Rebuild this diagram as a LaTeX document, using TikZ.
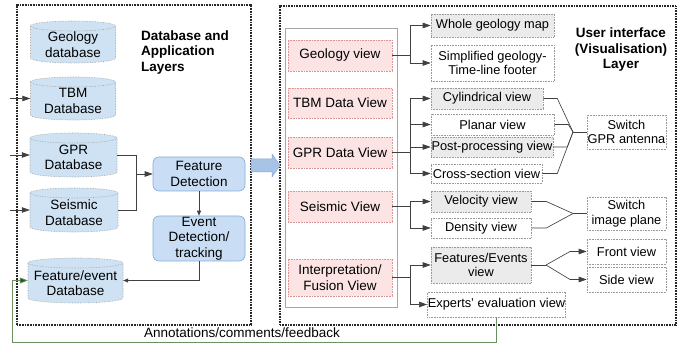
\documentclass[tikz,border=0pt]{standalone}
\usepackage{fontspec}
\setmainfont{Liberation Sans}
\usetikzlibrary{arrows.meta,calc}

\definecolor{cylblue}{HTML}{CFE2F3}
\definecolor{procblue}{HTML}{C9DEF5}
\definecolor{procborder}{HTML}{86A9D6}
\definecolor{pinkfill}{HTML}{FCE4E4}
\definecolor{pinkborder}{HTML}{D99494}
\definecolor{boxgray}{HTML}{EBEBEB}
\definecolor{fbgreen}{HTML}{6A9060}
\definecolor{fbdark}{HTML}{1E5A1E}
\definecolor{arrowblue}{HTML}{A7C3E6}

\newcommand\dbcyl[6]{%
  \filldraw[cylline] ({#2-#4/2},{#3-#5/2+5}) -- ({#2-#4/2},{#3+#5/2-5})
    arc[start angle=180,end angle=0,x radius={#4/2},y radius=5]
    -- ({#2+#4/2},{#3-#5/2+5})
    arc[start angle=0,end angle=-180,x radius={#4/2},y radius=5] -- cycle;
  \draw[cylline] ({#2-#4/2},{#3-#5/2+5}) arc[start angle=180,end angle=0,x radius={#4/2},y radius=5];
  \node[minimum width=#4pt,minimum height=#5pt,inner sep=0] (#1) at (#2,#3) {};
  \node[align=center,inner sep=0] (#1t) at (#2,{#3+2.5}) {#6};
}

\begin{document}
\begin{tikzpicture}[x=1pt,y=-1pt,
  every node/.style={font=\fontsize{13.5}{15.5}\selectfont},
  panel/.style={draw=black!85,line width=1.2pt,dash pattern=on 1pt off 0.6pt,inner sep=0},
  cylline/.style={draw=gray!75,fill=cylblue,densely dotted,line width=0.6pt},
  proc/.style={draw=procborder,fill=procblue,rounded corners=6pt,line width=0.6pt,align=center,inner sep=0},
  pinkbox/.style={draw=pinkborder,fill=pinkfill,densely dotted,line width=0.6pt,align=center,inner sep=0},
  rbox/.style={draw=gray!80,densely dotted,line width=0.6pt,inner sep=0.5pt,align=center,font=\fontsize{12.8}{14.5}\selectfont},
  gbox/.style={rbox,fill=boxgray},
  wbox/.style={rbox,fill=white},
  conn/.style={line width=0.65pt,draw=black!75},
  arr/.style={conn,-{Triangle[length=8pt,width=5.5pt]}},
  arrsm/.style={conn,-{Triangle[length=5pt,width=4pt]}},
  fb/.style={line width=0.7pt,draw=fbgreen,-{Triangle[length=8pt,width=6pt,fill=fbdark]}},
  title/.style={font=\bfseries\fontsize{13.5}{15.5}\selectfont,inner sep=0}
]
\useasboundingbox (0,0) rectangle (683,347);

% panels
\node[panel,minimum width=234pt,minimum height=320pt] (lpanel) at (134,165) {};
\node[panel,minimum width=396pt,minimum height=319pt] (rpanel) at (478,165.5) {};
\node[draw=gray!70,line width=0.8pt,minimum width=112pt,minimum height=279pt,inner sep=0] (inner) at (341,167.5) {};

% big arrow between layers
\filldraw[fill=arrowblue,draw=procborder,line width=0.5pt]
  (251,159) -- (272,159) -- (272,154) -- (280,165.5) -- (272,177) -- (272,172) -- (251,172) -- cycle;

% left layer
\dbcyl{geo}{73}{42}{85}{42}{Geology\\database}
\dbcyl{tbm}{73}{98.5}{85}{43}{TBM\\Database}
\dbcyl{gpr}{73.5}{155}{87}{44}{GPR\\Database}
\dbcyl{seis}{74}{210}{88}{44}{Seismic\\Database}
\dbcyl{fev}{75.5}{280.5}{95}{45}{Feature/event\\Database}

\node[title,align=left,anchor=west] (ltitle) at (141,52.5) {Database and\\Application\\Layers};

\node[proc,minimum width=92pt,minimum height=34pt] (fd) at (199,174) {Feature\\Detection};
\node[proc,minimum width=92pt,minimum height=45pt] (ed) at (199,238.5) {Event\\Detection/\\tracking};

\coordinate (la1) at (10,98.5);
\coordinate (la2) at (10,155);
\coordinate (la3) at (10,210);
\draw[arr] (la1) -- (tbm.west);
\draw[arr] (la2) -- (gpr.west);
\draw[arr] (la3) -- (seis.west);

\coordinate (jdb) at (136,174);
\draw[conn] (gpr.east) -| (jdb);
\draw[conn] (seis.east) -| (jdb);
\draw[arr] (jdb) -- (fd.west);
\draw[arrsm] (fd.south) -- (ed.north);
\draw[arrsm] (ed.south) |- (fev.east);

% right layer
\node[title,align=center] (rtitle) at (621,50) {User interface\\(Visualisation)\\Layer};

\node[pinkbox,minimum width=104pt,minimum height=31pt] (geov) at (340,55.5) {Geology view};
\node[pinkbox,minimum width=104pt,minimum height=30pt] (tbmv) at (340,103) {TBM Data View};
\node[pinkbox,minimum width=104pt,minimum height=31pt] (gprv) at (340,152.5) {GPR Data View};
\node[pinkbox,minimum width=104pt,minimum height=31pt] (seisv) at (340,206.5) {Seismic View};
\node[pinkbox,minimum width=104pt,minimum height=37pt] (intv) at (340,277.5) {Interpretation/\\Fusion View};

\node[gbox,minimum width=123pt,minimum height=23pt] (wgm) at (492.5,25.5) {Whole geology map};
\node[wbox,minimum width=123pt,minimum height=36pt] (sgt) at (492.5,63) {Simplified geology-\\Time-line footer};
\node[gbox,minimum width=112pt,minimum height=21pt] (cyl) at (487,98.5) {Cylindrical view};
\node[wbox,minimum width=123pt,minimum height=21pt] (pla) at (492.5,124.5) {Planar view};
\node[gbox,minimum width=122pt,minimum height=20pt] (pp) at (492,147) {Post-processing view};
\node[wbox,minimum width=111pt,minimum height=19pt] (cs) at (486.5,173.5) {Cross-section view};
\node[gbox,minimum width=100pt,minimum height=21pt] (vel) at (481,201.5) {Velocity view};
\node[wbox,minimum width=100pt,minimum height=20pt] (den) at (481,228) {Density view};
\node[gbox,minimum width=100pt,minimum height=36pt] (fe) at (481,265) {Features/Events\\view};
\node[wbox,minimum width=131pt,minimum height=25pt] (exp) at (496.5,304.5) {Experts' evaluation view};

\node[wbox,minimum width=79pt,minimum height=34pt] (sgpr) at (626.5,132) {Switch\\GPR antenna};
\node[wbox,minimum width=79pt,minimum height=33pt] (sip) at (626.5,213.5) {Switch\\image plane};
\node[wbox,minimum width=79pt,minimum height=25pt] (front) at (626.5,251.5) {Front view};
\node[wbox,minimum width=79pt,minimum height=25pt] (side) at (626.5,279.5) {Side view};

% view connectors
\coordinate (jgeo) at (410,55.5);
\draw[conn] (geov.east) -- (jgeo);
\draw[arr] (jgeo) |- (wgm.west);
\draw[arr] (jgeo) |- (sgt.west);

\coordinate (jgpr) at (410,152.5);
\draw[conn] (gprv.east) -- (jgpr);
\draw[arr] (jgpr) |- (cyl.west);
\draw[arr] (jgpr) |- (pla.west);
\draw[arr] (jgpr) |- (pp.west);
\draw[arr] (jgpr) |- (cs.west);

\coordinate (jseis) at (410,206.5);
\draw[conn] (seisv.east) -- (jseis);
\draw[arr] (jseis) |- (vel.west);
\draw[arr] (jseis) |- (den.west);

\coordinate (jint) at (410,277.5);
\draw[conn] (intv.east) -- (jint);
\draw[arr] (jint) |- (fe.west);
\draw[arr] (jint) |- (exp.west);

% switch connectors
\coordinate (sw1) at (573,132);
\draw[conn] (cyl.east) -- ++(14,0) -- (sw1);
\draw[conn] (pla.east) -- ++(14,0) -- (sw1);
\draw[conn] (pp.east) -- ++(14,0) -- (sw1);
\draw[conn] (cs.east) -- ++(15,0) -- (sw1);
\draw[conn] (sw1) -- (sgpr.west);

\coordinate (sw2) at (573,213.5);
\draw[conn] (vel.east) -- ++(15,0) -- (sw2);
\draw[conn] (den.east) -- ++(15,0) -- (sw2);
\draw[conn] (sw2) -- (sip.west);

\coordinate (jfe) at (546,265);
\coordinate (kf) at (570,251.5);
\coordinate (ks) at (570,279.5);
\draw[conn] (fe.east) -- (jfe);
\draw[arr] (jfe) -- (kf) -- (front.west);
\draw[arr] (jfe) -- (ks) -- (side.west);

% feedback loop
\coordinate (fbc) at (12,342);
\draw[fb] (exp.south) |- (fbc) |- (fev.west);
\node (fbl) at (242,333) {Annotations/comments/feedback};
\end{tikzpicture}
\end{document}
